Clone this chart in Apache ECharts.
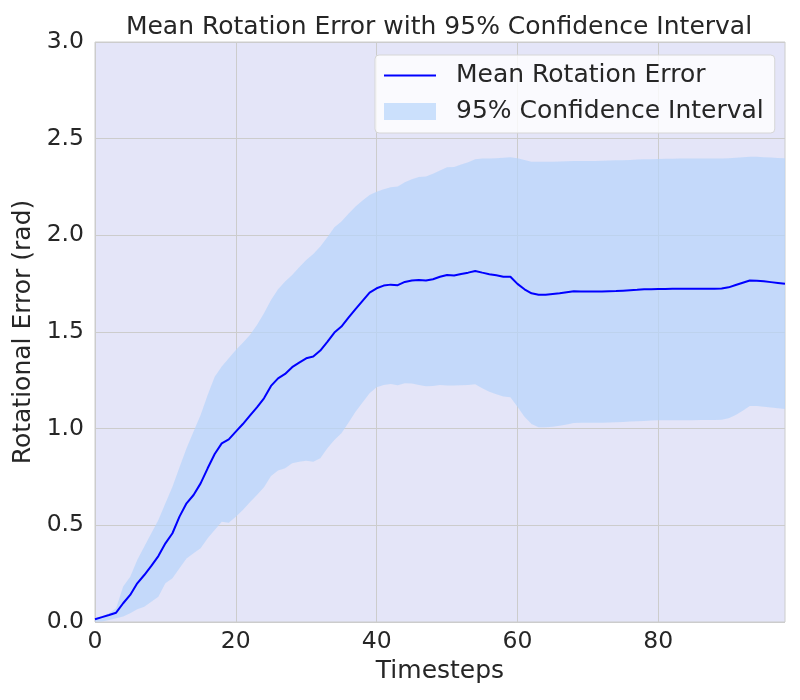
<!DOCTYPE html>
<html>
<head>
<meta charset="utf-8">
<title>Mean Rotation Error</title>
<script src="https://cdn.jsdelivr.net/npm/echarts@6/dist/echarts.min.js"></script>
<style>
    html, body { margin: 0; padding: 0; background: #ffffff; }
    #chart { width: 800px; height: 700px; }
</style>
</head>
<body>
<div id="chart"></div>
<script>
// 时间步 0..98
const timesteps = [
     0,  1,  2,  3,  4,  5,  6,  7,  8,  9, 10, 11, 12, 13, 14, 15, 16, 17, 18, 19,
    20, 21, 22, 23, 24, 25, 26, 27, 28, 29, 30, 31, 32, 33, 34, 35, 36, 37, 38, 39,
    40, 41, 42, 43, 44, 45, 46, 47, 48, 49, 50, 51, 52, 53, 54, 55, 56, 57, 58, 59,
    60, 61, 62, 63, 64, 65, 66, 67, 68, 69, 70, 71, 72, 73, 74, 75, 76, 77, 78, 79,
    80, 81, 82, 83, 84, 85, 86, 87, 88, 89, 90, 91, 92, 93, 94, 95, 96, 97, 98
];

// 平均旋转误差
const meanError = [
    0.014, 0.025, 0.036, 0.048, 0.097, 0.140, 0.200, 0.243, 0.290, 0.341,
    0.407, 0.459, 0.545, 0.614, 0.657, 0.717, 0.795, 0.869, 0.924, 0.945,
    0.985, 1.024, 1.067, 1.110, 1.157, 1.221, 1.260, 1.283, 1.318, 1.342,
    1.364, 1.373, 1.404, 1.449, 1.497, 1.528, 1.574, 1.618, 1.661, 1.704,
    1.726, 1.740, 1.745, 1.742, 1.759, 1.766, 1.769, 1.766, 1.773, 1.786,
    1.795, 1.792, 1.800, 1.807, 1.816, 1.807, 1.799, 1.793, 1.786, 1.786,
    1.749, 1.721, 1.700, 1.693, 1.693, 1.697, 1.700, 1.706, 1.711, 1.710,
    1.709, 1.709, 1.710, 1.711, 1.712, 1.714, 1.716, 1.718, 1.721, 1.721,
    1.722, 1.723, 1.724, 1.724, 1.724, 1.724, 1.724, 1.724, 1.724, 1.725,
    1.731, 1.743, 1.755, 1.766, 1.765, 1.762, 1.758, 1.754, 1.750
];

// 95% 置信区间上界
const upperCI = [
    0.020, 0.031, 0.045, 0.071, 0.183, 0.234, 0.321, 0.390, 0.459, 0.528,
    0.614, 0.700, 0.800, 0.899, 0.985, 1.071, 1.174, 1.269, 1.321, 1.364,
    1.407, 1.445, 1.485, 1.536, 1.597, 1.666, 1.721, 1.761, 1.795, 1.835,
    1.873, 1.904, 1.942, 1.990, 2.042, 2.071, 2.111, 2.149, 2.180, 2.209,
    2.226, 2.238, 2.249, 2.252, 2.275, 2.290, 2.302, 2.304, 2.318, 2.335,
    2.352, 2.354, 2.366, 2.378, 2.394, 2.397, 2.398, 2.399, 2.401, 2.404,
    2.399, 2.390, 2.381, 2.380, 2.380, 2.381, 2.382, 2.383, 2.384, 2.384,
    2.384, 2.385, 2.386, 2.387, 2.388, 2.389, 2.390, 2.392, 2.393, 2.394,
    2.395, 2.396, 2.396, 2.397, 2.397, 2.397, 2.398, 2.398, 2.398, 2.398,
    2.399, 2.401, 2.404, 2.407, 2.406, 2.404, 2.402, 2.400, 2.399
];

// 95% 置信区间下界
const lowerCI = [
    0.002, 0.003, 0.010, 0.019, 0.028, 0.045, 0.066, 0.079, 0.105, 0.131,
    0.200, 0.226, 0.278, 0.329, 0.355, 0.381, 0.433, 0.476, 0.519, 0.514,
    0.545, 0.579, 0.619, 0.657, 0.697, 0.755, 0.783, 0.795, 0.821, 0.829,
    0.834, 0.829, 0.847, 0.899, 0.942, 0.976, 1.031, 1.088, 1.135, 1.183,
    1.214, 1.226, 1.231, 1.224, 1.235, 1.233, 1.226, 1.219, 1.221, 1.226,
    1.223, 1.223, 1.224, 1.226, 1.230, 1.209, 1.191, 1.178, 1.166, 1.162,
    1.114, 1.062, 1.024, 1.007, 1.007, 1.010, 1.015, 1.022, 1.029, 1.030,
    1.030, 1.031, 1.031, 1.032, 1.033, 1.035, 1.037, 1.039, 1.040, 1.042,
    1.043, 1.043, 1.044, 1.044, 1.044, 1.044, 1.045, 1.045, 1.045, 1.046,
    1.054, 1.071, 1.093, 1.117, 1.117, 1.113, 1.109, 1.105, 1.102
];

const yTicks = [0, 0.5, 1.0, 1.5, 2.0, 2.5, 3.0];
const xTicks = [0, 20, 40, 60, 80];

const FONT = 'DejaVu Sans';
const TEXT_COLOR = '#262626';
const BAND_COLOR = 'rgba(182, 212, 251, 0.7)';

function initChart() {
    const chart = echarts.init(document.getElementById('chart'), null, { renderer: 'canvas' });

    // 置信带宽度，叠加在下界之上
    const bandWidth = upperCI.map((u, i) => +(u - lowerCI[i]).toFixed(4));
    const isTick = (index) => xTicks.includes(timesteps[index]);

    const option = {
        animation: false,
        backgroundColor: '#ffffff',
        textStyle: { fontFamily: FONT },
        title: {
            text: 'Mean Rotation Error with 95% Confidence Interval',
            left: 434,
            textAlign: 'center',
            top: 10,
            textStyle: {
                fontFamily: FONT,
                fontSize: 25,
                fontWeight: 'normal',
                color: TEXT_COLOR
            }
        },
        legend: {
            orient: 'vertical',
            left: 375,
            top: 55,
            padding: [8, 11, 9, 9],
            itemGap: 11,
            itemWidth: 52,
            itemHeight: 17,
            backgroundColor: 'rgba(255,255,255,0.8)',
            borderColor: '#d6d6d6',
            borderWidth: 1,
            borderRadius: 4,
            selectedMode: false,
            textStyle: {
                fontFamily: FONT,
                fontSize: 25,
                color: TEXT_COLOR,
                padding: [0, 0, 0, 15]
            },
            data: [
                { name: 'Mean Rotation Error', icon: 'path://M0,0L52,0L52,2L0,2Z', itemStyle: { color: '#0000ff' } },
                { name: '95% Confidence Interval', icon: 'rect', itemStyle: { color: BAND_COLOR, opacity: 1 } }
            ]
        },
        grid: {
            left: 95,
            right: 15,
            top: 42,
            bottom: 78,
            show: true,
            backgroundColor: '#e4e5f8',
            borderColor: '#cccccc',
            borderWidth: 1
        },
        xAxis: {
            type: 'category',
            data: timesteps,
            boundaryGap: false,
            name: 'Timesteps',
            nameLocation: 'middle',
            nameGap: 37,
            nameTextStyle: { fontFamily: FONT, fontSize: 25, color: TEXT_COLOR },
            axisLine: { show: false },
            axisTick: { show: false },
            axisLabel: {
                fontFamily: FONT,
                fontSize: 23.5,
                color: TEXT_COLOR,
                margin: 8,
                interval: (index) => isTick(index)
            },
            splitLine: {
                show: true,
                interval: (index) => isTick(index),
                lineStyle: { color: '#cccccc', width: 1 }
            }
        },
        yAxis: {
            type: 'value',
            min: 0,
            max: 3,
            interval: 0.5,
            name: 'Rotational Error (rad)',
            nameLocation: 'middle',
            nameGap: 56,
            nameTextStyle: { fontFamily: FONT, fontSize: 25, color: TEXT_COLOR },
            axisLine: { show: false },
            axisTick: { show: false },
            axisLabel: {
                fontFamily: FONT,
                fontSize: 23.5,
                color: TEXT_COLOR,
                margin: 11,
                formatter: v => yTicks.includes(v) ? v.toFixed(1) : ''
            },
            splitLine: { show: true, lineStyle: { color: '#cccccc', width: 1 } }
        },
        series: [
            {
                name: 'lower',
                type: 'line',
                stack: 'ci',
                data: lowerCI,
                symbol: 'none',
                lineStyle: { opacity: 0 },
                silent: true,
                z: 1
            },
            {
                name: '95% Confidence Interval',
                type: 'line',
                stack: 'ci',
                data: bandWidth,
                symbol: 'none',
                lineStyle: { opacity: 0 },
                itemStyle: { color: BAND_COLOR },
                areaStyle: { color: BAND_COLOR, opacity: 1 },
                silent: true,
                z: 2
            },
            {
                name: 'Mean Rotation Error',
                type: 'line',
                data: meanError,
                symbol: 'none',
                itemStyle: { color: '#0000ff' },
                lineStyle: { color: '#0000ff', width: 2 },
                z: 3
            }
        ]
    };

    chart.setOption(option);

    window.addEventListener('resize', function() {
        chart.resize();
    });
}

document.addEventListener('DOMContentLoaded', initChart);
</script>
</body>
</html>
